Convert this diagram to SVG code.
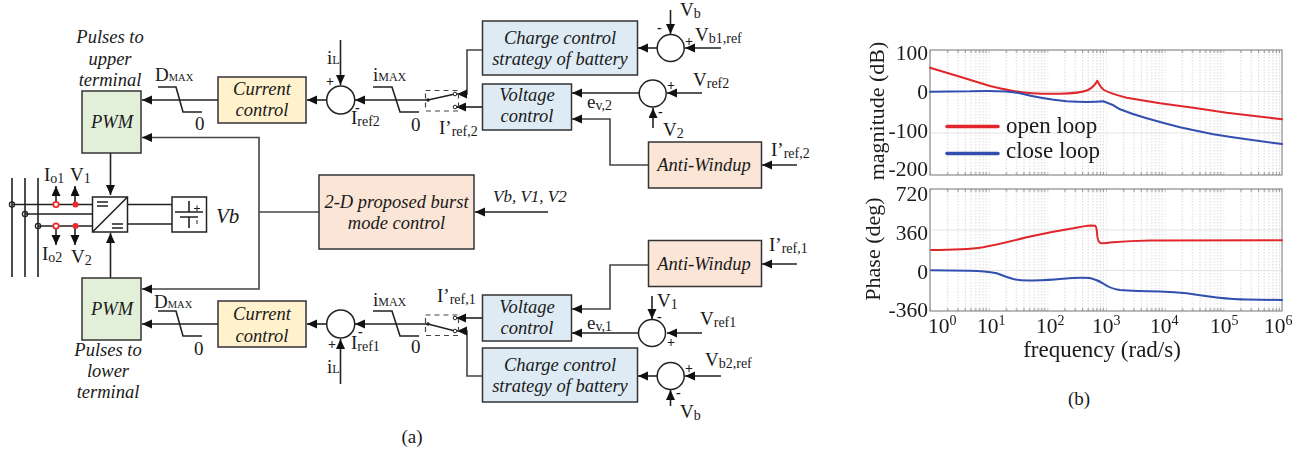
<svg xmlns="http://www.w3.org/2000/svg" width="1308" height="452" viewBox="0 0 1308 452">
<style>
text{font-family:"Liberation Serif",serif;fill:#1a1a1a;font-size:19px}
.i{font-style:italic;font-size:18.5px}
.m{text-anchor:middle}
.s{font-size:14px;baseline-shift:-2px}
.t{font-size:10.5px}
.ax{font-size:22px}
.lg{font-size:23px}
.axe{text-anchor:end;font-size:21.5px}
.e{font-size:14px}
.sg{font-size:14px;font-weight:bold}
.box{stroke:#333;stroke-width:1.5}
.g{fill:#e2efd9}.y{fill:#fff2cc}.b{fill:#deebf5}.o{fill:#fbe5d6}
.w{fill:#fff;stroke:#222;stroke-width:1.5}
#connectors path,.ln{fill:none;stroke:#222;stroke-width:1.6}
#connectors .a{marker-end:url(#ah)}
#connectors .gy{stroke:#444}
.dash{fill:none;stroke:#444;stroke-width:1.2;stroke-dasharray:5 4}
.crv{fill:none;stroke-width:2;stroke-linejoin:round;stroke-linecap:round}
</style>
<defs>
<marker id="ah" markerUnits="userSpaceOnUse" markerWidth="11" markerHeight="10" refX="10" refY="4.5" orient="auto"><path d="M0,0L10,4.500L0,9Z" fill="#111"/></marker>
<pattern id="mg" patternUnits="userSpaceOnUse" x="930" y="0" width="58.667" height="3">
<path d="M0,0V1.600M17.700,0V1.600M28,0V1.600M35.300,0V1.600M41,0V1.600M45.700,0V1.600M49.600,0V1.600M53,0V1.600M56,0V1.600" stroke="#c8c8c8" stroke-width=".7" fill="none"/>
</pattern>
<pattern id="mt" patternUnits="userSpaceOnUse" x="930" y="0" width="58.667" height="3">
<path d="M0,0V3M17.700,0V3M28,0V3M35.300,0V3M41,0V3M45.700,0V3M49.600,0V3M53,0V3M56,0V3" stroke="#777" stroke-width=".8" fill="none"/>
</pattern>
<filter id="soft" x="-2%" y="-2%" width="104%" height="104%"><feGaussianBlur stdDeviation=".4"/></filter>
</defs>
<rect width="1308" height="452" fill="#fff"/>

<g id="connectors">
<path class="a" d="M218,100H142"/>
<path class="a gy" d="M259,212V137.500H142"/>
<path class="a" d="M110.500,153V195"/>
<path class="a" d="M110.500,278V233"/>
<path class="a gy" d="M259,212V289H142"/>
<path class="gy" d="M259,212H319"/>
<path class="a" d="M218,324H142"/>
<path class="a" d="M327,100H307"/>
<path class="a" d="M327,324H307"/>
<path class="a" d="M340.500,40V85"/>
<path class="a" d="M340.500,384V339"/>
<path class="a" d="M428,100H355"/>
<path class="a" d="M428,324H355"/>
<path class="a gy" d="M482,50H467V94H457"/>
<path class="a" d="M482,107H456"/>
<path class="a" d="M482,318H456"/>
<path class="a gy" d="M482,376H467V331H457"/>
<path class="a" d="M657,48H638"/>
<path class="a" d="M721,48H685"/>
<path class="a" d="M670.500,10V34"/>
<path class="a" d="M639,93H572"/>
<path class="a" d="M702,93H667"/>
<path class="a" d="M653,128V108"/>
<path class="a gy" d="M648,165H610V119H572"/>
<path class="a" d="M797,165H762"/>
<path class="a" d="M548,212H475"/>
<path class="a gy" d="M648,265H610V309H572"/>
<path class="a" d="M797,264H762"/>
<path class="a" d="M638,333H572"/>
<path class="a" d="M702,333H667"/>
<path class="a" d="M652,296V319"/>
<path class="a" d="M657,376H638"/>
<path class="a" d="M721,376H685"/>
<path class="a" d="M670.500,406V390"/>
<path d="M428,100L455,94M428,324L455,331"/>
<path d="M128,204.500H172M128,224H172"/>
<path d="M12,204.500H92M25,214H92M38,226H92"/>
<path class="a" d="M56,204V186"/>
<path class="a" d="M75,204V186"/>
<path class="a" d="M56,226V245"/>
<path class="a" d="M75,226V245"/>
</g>

<g id="bus"><path class="ln" d="M12,178V277M25,178V277M38,178V277"/>
<circle cx="12" cy="204.500" r="2.600" fill="none" stroke="#222" stroke-width="1.300"/><circle cx="25" cy="214" r="2.600" fill="none" stroke="#222" stroke-width="1.300"/><circle cx="38" cy="226" r="2.600" fill="none" stroke="#222" stroke-width="1.300"/>
<circle cx="56" cy="204.500" r="2.700" fill="#fff" stroke="#ee2a2a" stroke-width="1.800"/><circle cx="75.500" cy="204.500" r="3" fill="#ee2a2a"/>
<circle cx="56" cy="226" r="2.700" fill="#fff" stroke="#ee2a2a" stroke-width="1.800"/><circle cx="75.500" cy="226" r="3" fill="#ee2a2a"/>
<text x="44" y="181">I<tspan class="s">o1</tspan></text><text x="70" y="181">V<tspan class="s">1</tspan></text>
<text x="42" y="260">I<tspan class="s">o2</tspan></text><text x="71" y="263">V<tspan class="s">2</tspan></text></g>

<g id="pwm-upper"><rect class="box g" x="82" y="91" width="59" height="62"/><text class="i m" x="112" y="128">PWM</text>
<text class="i m" x="110" y="43">Pulses to</text><text class="i m" x="110" y="65">upper</text><text class="i m" x="110" y="86">terminal</text></g>
<g id="pwm-lower"><rect class="box g" x="82" y="278" width="59" height="62"/><text class="i m" x="112" y="315">PWM</text>
<text class="i m" x="108" y="356">Pulses to</text><text class="i m" x="108" y="377">lower</text><text class="i m" x="108" y="398">terminal</text></g>

<g id="converter"><rect class="w" x="92.500" y="197" width="35" height="35"/><path class="ln" d="M92.500,232L127.500,197M97,202H108M97,206H108M112,224H123M112,228H123"/></g>
<g id="battery"><rect class="w" x="172" y="197" width="34.500" height="35"/><path class="ln" d="M189,201V212M175,212H203M180,217H198M189,217V228"/>
<path d="M194,208.500H200M197,205.500V211.500M197,220V224" stroke="#222" stroke-width="1" fill="none"/><text class="i" x="216" y="223" style="font-size:21px">Vb</text></g>

<g id="limiter-d-upper"><path class="ln" d="M158,87H176L183,112H202"/><text x="155" y="81">D<tspan class="t">MAX</tspan></text><text x="195" y="130">0</text></g>
<g id="limiter-d-lower"><path class="ln" d="M158,311H176L183,336H202"/><text x="154" y="308">D<tspan class="t">MAX</tspan></text><text x="194" y="355">0</text></g>

<g id="current-upper"><rect class="box y" x="218" y="77" width="88" height="46"/><text class="i m" x="262" y="95">Current</text><text class="i m" x="262" y="116">control</text></g>
<g id="current-lower"><rect class="box y" x="218" y="301" width="88" height="46"/><text class="i m" x="262" y="320">Current</text><text class="i m" x="262" y="342">control</text></g>

<g id="sum-upper"><circle class="w" cx="340.700" cy="100" r="14"/><text x="327" y="64">i<tspan class="t" style="font-size:12px">L</tspan></text><text class="sg" x="326" y="86">+</text><text class="sg" x="355" y="112">-</text><text x="351" y="124">I<tspan class="s">ref2</tspan></text></g>
<g id="sum-lower"><circle class="w" cx="340.700" cy="324" r="14"/><text x="327" y="373">i<tspan class="t" style="font-size:12px">L</tspan></text><text class="sg" x="328" y="349">+</text><text class="sg" x="358" y="336">-</text><text x="351" y="349">I<tspan class="s">ref1</tspan></text></g>

<g id="limiter-i-upper"><path class="ln" d="M373,87H392L400,112H419"/><text x="373" y="81">i<tspan style="font-size:12px">MAX</tspan></text><text x="411" y="131">0</text></g>
<g id="limiter-i-lower"><path class="ln" d="M373,311H392L400,336H419"/><text x="373" y="306">i<tspan style="font-size:12px">MAX</tspan></text><text x="411" y="353">0</text></g>

<g id="switch-upper"><rect class="dash" x="425.500" y="90.500" width="33" height="20.500"/><circle cx="428" cy="100" r="1.700" fill="#222"/><circle cx="455" cy="94" r="1.800" fill="#fff" stroke="#222"/><circle cx="455" cy="107" r="1.800" fill="#fff" stroke="#222"/><text x="439" y="134">I’<tspan class="s">ref,2</tspan></text></g>
<g id="switch-lower"><rect class="dash" x="425.500" y="315" width="33" height="20.500"/><circle cx="428" cy="324" r="1.700" fill="#222"/><circle cx="455" cy="318" r="1.800" fill="#fff" stroke="#222"/><circle cx="455" cy="331" r="1.800" fill="#fff" stroke="#222"/><text x="437" y="302">I’<tspan class="s">ref,1</tspan></text></g>

<g id="charge-upper"><rect class="box b" x="482.500" y="21" width="155" height="54"/><text class="i m" x="560" y="44">Charge control</text><text class="i m" x="560" y="65">strategy of battery</text></g>
<g id="voltage-upper"><rect class="box b" x="482.500" y="84" width="89" height="46"/><text class="i m" x="527" y="101">Voltage</text><text class="i m" x="527" y="122">control</text><text x="587" y="108">e<tspan class="s">v,2</tspan></text></g>
<g id="charge-lower"><rect class="box b" x="482.500" y="348" width="155" height="54"/><text class="i m" x="560" y="371">Charge control</text><text class="i m" x="560" y="392">strategy of battery</text></g>
<g id="voltage-lower"><rect class="box b" x="482.500" y="295" width="89" height="46"/><text class="i m" x="527" y="313">Voltage</text><text class="i m" x="527" y="334">control</text><text x="587" y="329">e<tspan class="s">v,1</tspan></text></g>

<g id="sum-vb-upper"><circle class="w" cx="670.700" cy="48" r="13.500"/><text x="680" y="16">V<tspan class="s">b</tspan></text><text x="695" y="41">V<tspan class="s">b1,ref</tspan></text><text class="sg" x="657" y="32">-</text><text class="sg" x="685" y="46">+</text></g>
<g id="sum-v2"><circle class="w" cx="652.700" cy="93.500" r="13.500"/><text x="693" y="86">V<tspan class="s">ref2</tspan></text><text x="663" y="136">V<tspan class="s">2</tspan></text><text class="sg" x="667" y="90">+</text><text class="sg" x="658" y="116">-</text></g>
<g id="sum-v1"><circle class="w" cx="652" cy="333" r="13.500"/><text x="657" y="307">V<tspan class="s">1</tspan></text><text x="700" y="325">V<tspan class="s">ref1</tspan></text><text class="sg" x="657" y="321">-</text><text class="sg" x="667" y="347">+</text></g>
<g id="sum-vb-lower"><circle class="w" cx="670.700" cy="376" r="13.500"/><text x="705" y="366">V<tspan class="s">b2,ref</tspan></text><text x="680" y="418">V<tspan class="s">b</tspan></text><text class="sg" x="685" y="373">+</text><text class="sg" x="676" y="397">-</text></g>

<g id="antiwindup-upper"><rect class="box o" x="648.500" y="142" width="113" height="46"/><text class="i m" x="704" y="171">Anti-Windup</text><text x="771" y="156">I’<tspan class="s">ref,2</tspan></text></g>
<g id="antiwindup-lower"><rect class="box o" x="648.500" y="240.500" width="113" height="46"/><text class="i m" x="704" y="270">Anti-Windup</text><text x="769" y="251">I’<tspan class="s">ref,1</tspan></text></g>
<g id="burst"><rect class="box o" x="319" y="175" width="155" height="74"/><text class="i m" x="396.500" y="208">2-D proposed burst</text><text class="i m" x="396.500" y="229">mode control</text><text class="i" x="493" y="202" style="font-size:17px">Vb, V1, V2</text></g>
<text class="m" x="412" y="443">(a)</text>

<g id="magnitude-plot" filter="url(#soft)">
<rect x="930" y="50" width="352" height="125" fill="url(#mg)"/>
<path d="M930,91.500H1282M930,133H1282" stroke="#e3e3e3" stroke-width="1" fill="none"/>
<rect x="930" y="50" width="352" height="3" fill="url(#mt)"/><rect x="930" y="172" width="352" height="3" fill="url(#mt)"/>
<rect x="930" y="50" width="352" height="125" fill="none" stroke="#8a8a8a" stroke-width="1.200"/>
<path class="crv" stroke="#e0262b" d="M930,67.700L960,76.700L990,86Q1016.700,92.500 1032,93.200Q1046.700,94 1060,93.700Q1080,93.300 1088,90Q1094,87 1097.300,80.700Q1100,87 1104,90Q1110,93.500 1126.700,97.700L1160,103.300L1193.300,107.700L1226.700,112.700L1282,119.300"/>
<path class="crv" stroke="#3050b0" d="M930,91.700L970,91.300Q1003,90 1020,93.300Q1040,98.500 1066.700,101.300Q1090,102.500 1103.300,101.300Q1112,104 1120,109.300Q1133,114.500 1146.700,118.300Q1163,123 1180,127.300Q1197,131 1213.300,134.300Q1230,137 1246.700,139.300L1282,144"/>
<path d="M947,126.500H998" stroke="#e0262b" stroke-width="3.500" stroke-linecap="round"/><path d="M947,153.500H998" stroke="#3050b0" stroke-width="3.500" stroke-linecap="round"/>
<text class="lg" x="1006" y="133">open loop</text><text class="lg" x="1006" y="158">close loop</text>
<text class="axe" x="928" y="60">100</text><text class="axe" x="928" y="99">0</text><text class="axe" x="928" y="138">-100</text><text class="axe" x="928" y="176">-200</text>
<text class="ax m" transform="translate(884,111) rotate(-90)">magnitude (dB)</text>
</g>
<g id="phase-plot" filter="url(#soft)">
<rect x="930" y="189" width="352" height="122" fill="url(#mg)"/>
<path d="M930,230H1282M930,270.500H1282" stroke="#e3e3e3" stroke-width="1" fill="none"/>
<rect x="930" y="189" width="352" height="3" fill="url(#mt)"/><rect x="930" y="308" width="352" height="3" fill="url(#mt)"/>
<rect x="930" y="189" width="352" height="122" fill="none" stroke="#8a8a8a" stroke-width="1.200"/>
<path class="crv" stroke="#e0262b" d="M931,250Q965,250 983,247.300Q1003,243.500 1026.700,237.300Q1050,232 1073.300,228.300Q1085,226 1091,225.600L1095,225.700Q1096.500,226 1097,233Q1097.500,242 1100.500,243Q1103,243.500 1113,242.300Q1130,241 1150,240.600L1282,240.300"/>
<path class="crv" stroke="#3050b0" d="M931,270.300L970,270.800Q985,271 996.700,273.300Q1006,277 1013.300,279Q1022,281 1033,280.500Q1050,280 1060,279Q1080,277 1090,278Q1098,280 1104,284Q1110,288.500 1120,290Q1135,291.300 1160,291.500Q1175,292 1186.700,293.300Q1200,295.500 1216.700,297.500Q1235,299.500 1246.700,299.500L1282,300"/>
<text class="axe" x="928" y="201">720</text><text class="axe" x="928" y="240">360</text><text class="axe" x="928" y="279">0</text><text class="axe" x="928" y="317">-360</text>
<text class="ax m" transform="translate(880,249) rotate(-90)">Phase (deg)</text>
<text class="axe" style="text-anchor:start" x="928" y="333">10<tspan class="e" dy="-8">0</tspan></text>
<text class="axe" style="text-anchor:start" x="977" y="333">10<tspan class="e" dy="-8">1</tspan></text>
<text class="axe" style="text-anchor:start" x="1036" y="333">10<tspan class="e" dy="-8">2</tspan></text>
<text class="axe" style="text-anchor:start" x="1092" y="333">10<tspan class="e" dy="-8">3</tspan></text>
<text class="axe" style="text-anchor:start" x="1150" y="333">10<tspan class="e" dy="-8">4</tspan></text>
<text class="axe" style="text-anchor:start" x="1210" y="333">10<tspan class="e" dy="-8">5</tspan></text>
<text class="axe" style="text-anchor:start" x="1264" y="333">10<tspan class="e" dy="-8">6</tspan></text>
<text class="lg m" x="1102" y="357">frequency (rad/s)</text>
</g>
<text class="m" x="1079" y="405">(b)</text>
</svg>
